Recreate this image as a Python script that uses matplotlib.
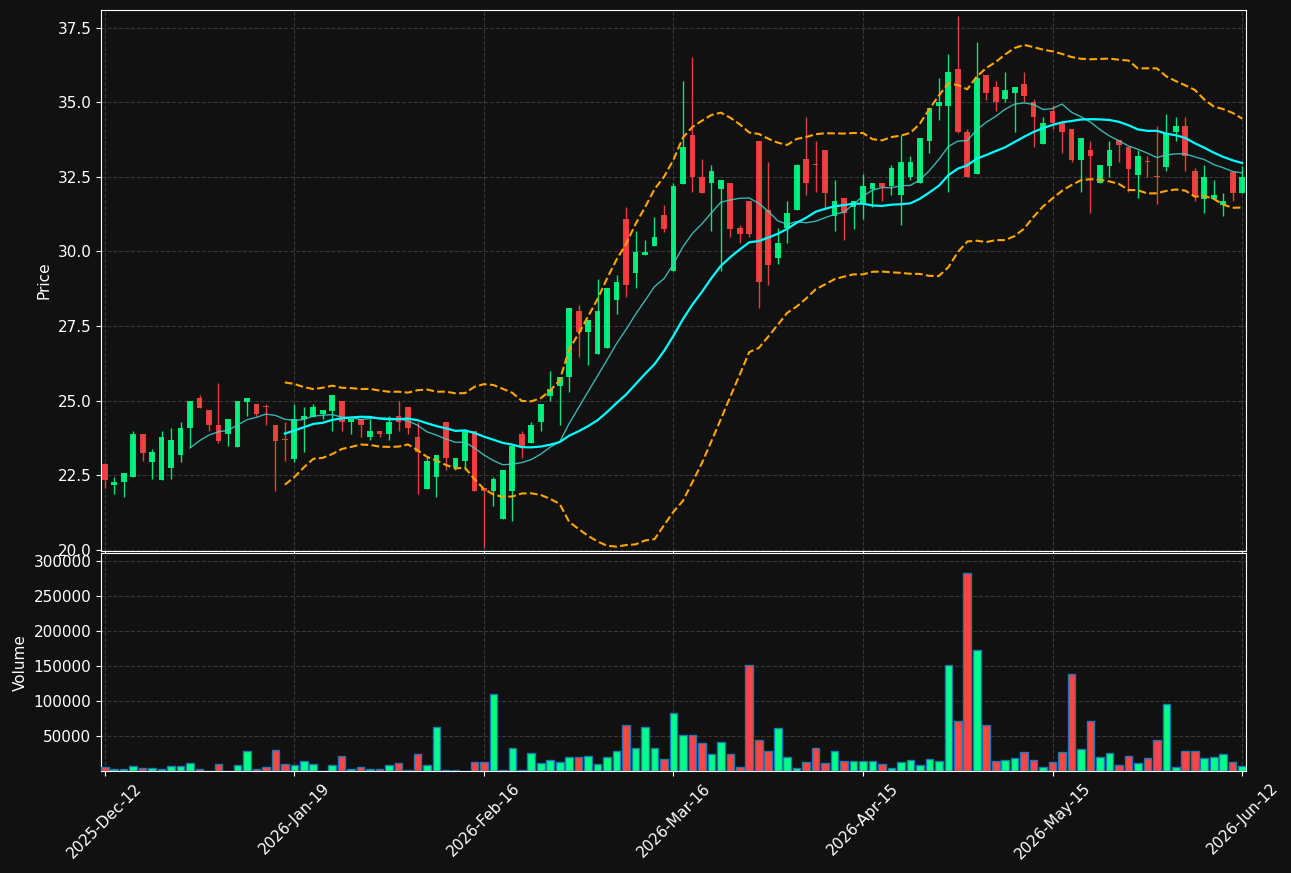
import numpy as np
import pandas as pd
import matplotlib
matplotlib.use("Agg")
import matplotlib.pyplot as plt

# ── OHLCV data (one row per trading bar) ──────────────────────────────────────
opens = [22.88, 22.16, 22.26, 22.46, 23.89, 22.96, 22.36, 22.76, 23.17, 24.07,
         25.10, 24.69, 24.19, 23.87, 23.46, 24.97, 24.89, 24.82, 24.19, 23.72,
         23.05, 24.38, 24.47, 24.56, 24.66, 24.99, 24.28, 24.38, 23.77, 23.99,
         23.87, 24.49, 24.79, 23.79, 22.05, 22.46, 24.29, 22.77, 22.97, 23.99,
         22.09, 21.96, 21.05, 21.96, 23.89, 23.58, 24.28, 25.17, 25.48, 25.78,
         28.01, 27.29, 26.58, 26.78, 28.36, 31.08, 29.27, 29.87, 30.17, 31.21,
         29.35, 32.27, 33.91, 32.50, 32.29, 32.08, 32.30, 30.79, 31.69, 33.71,
         31.40, 29.77, 30.78, 31.38, 33.11, 32.94, 33.41, 31.18, 31.80, 31.48,
         31.62, 32.09, 32.30, 32.18, 31.89, 32.48, 32.28, 33.69, 34.89, 34.89,
         36.12, 34.02, 32.58, 35.92, 35.52, 35.10, 35.30, 35.62, 35.00, 33.60,
         34.72, 34.31, 34.11, 33.08, 33.41, 32.29, 32.87, 33.74, 33.51, 32.57,
         33.04, 32.54, 32.83, 33.99, 34.21, 32.71, 31.77, 31.77, 31.57, 32.67,
         31.97]
highs = [22.90, 22.46, 22.58, 23.97, 23.89, 23.39, 23.99, 24.08, 24.29, 24.99,
         25.20, 24.69, 25.60, 24.39, 24.99, 25.10, 24.89, 24.89, 24.19, 24.28,
         24.88, 24.79, 24.89, 24.68, 25.19, 24.99, 24.38, 24.38, 24.38, 23.99,
         24.48, 24.99, 24.79, 24.28, 23.15, 23.17, 24.29, 23.08, 23.99, 23.99,
         22.09, 22.46, 22.68, 23.49, 23.99, 24.29, 24.89, 26.00, 25.79, 28.11,
         28.21, 27.71, 29.07, 28.78, 29.20, 31.50, 30.70, 30.39, 31.17, 31.55,
         32.29, 35.70, 36.50, 33.11, 32.90, 32.40, 32.30, 30.89, 31.69, 33.71,
         33.01, 30.78, 31.69, 32.94, 34.51, 33.71, 33.41, 32.40, 31.80, 31.69,
         32.60, 32.30, 32.30, 32.91, 33.91, 33.21, 33.81, 34.82, 35.81, 36.62,
         37.90, 34.11, 37.01, 35.92, 35.72, 36.02, 35.52, 36.02, 35.10, 34.51,
         34.92, 34.31, 34.11, 33.81, 33.71, 32.91, 33.71, 33.74, 33.51, 33.40,
         33.21, 34.21, 34.62, 34.51, 34.51, 32.80, 32.91, 32.40, 31.95, 32.67,
         32.87]
lows = [22.08, 21.87, 21.77, 22.46, 22.98, 22.37, 22.36, 22.37, 22.96, 23.44,
        24.77, 23.97, 23.58, 23.48, 23.46, 24.48, 24.48, 24.18, 21.96, 22.97,
        22.96, 23.28, 24.47, 24.38, 23.97, 23.97, 23.88, 23.77, 23.67, 23.77,
        23.68, 23.97, 23.88, 21.87, 22.05, 21.77, 22.67, 22.67, 22.67, 21.96,
        20.06, 21.47, 21.05, 20.97, 23.07, 23.58, 23.99, 24.99, 24.18, 25.29,
        26.48, 26.18, 26.58, 26.78, 27.90, 28.46, 28.77, 29.87, 30.17, 30.66,
        29.35, 32.27, 32.00, 31.97, 30.67, 29.35, 30.48, 30.28, 30.48, 28.10,
        28.88, 29.58, 30.28, 31.38, 31.89, 31.99, 31.38, 30.67, 30.38, 30.77,
        31.10, 31.49, 31.68, 31.90, 30.89, 32.40, 32.28, 33.31, 34.41, 31.99,
        33.98, 32.48, 32.58, 35.08, 34.72, 35.00, 34.02, 35.00, 33.51, 33.60,
        34.10, 33.31, 33.00, 31.98, 31.29, 32.29, 32.51, 33.00, 31.98, 31.80,
        32.51, 31.60, 32.71, 33.71, 32.71, 31.70, 31.29, 31.77, 31.18, 31.70,
        31.97]
closes = [22.35, 22.28, 22.58, 23.89, 23.26, 23.27, 23.79, 23.69, 24.09, 24.99,
          24.77, 24.17, 23.66, 24.39, 24.99, 25.10, 24.57, 24.79, 23.66, 23.69,
          24.38, 24.49, 24.79, 24.68, 25.19, 24.28, 24.38, 24.17, 23.99, 23.87,
          24.29, 24.28, 24.08, 23.27, 22.98, 23.17, 23.07, 23.08, 23.99, 21.96,
          21.96, 22.38, 22.68, 23.49, 23.49, 24.19, 24.89, 25.40, 25.79, 28.11,
          27.30, 27.71, 28.01, 28.78, 28.98, 28.88, 29.99, 29.99, 30.49, 30.76,
          32.20, 33.50, 32.48, 31.97, 32.71, 32.40, 30.76, 30.57, 30.57, 28.98,
          29.55, 30.29, 31.29, 32.91, 32.30, 32.91, 31.97, 31.69, 31.29, 31.69,
          32.20, 32.30, 32.17, 32.81, 33.01, 33.01, 33.81, 34.82, 35.02, 36.02,
          34.00, 32.48, 35.82, 35.30, 35.00, 35.42, 35.52, 35.20, 34.51, 34.31,
          34.32, 33.99, 33.07, 33.81, 33.19, 32.91, 33.41, 33.58, 32.77, 33.21,
          33.01, 32.51, 33.93, 34.21, 33.19, 31.89, 32.51, 31.90, 31.70, 31.97,
          32.51]
volumes = [5300, 3300, 3300, 6700, 4800, 4800, 3300, 6700, 6700, 11000,
           2400, 500, 9500, 300, 8100, 28100, 2400, 5300, 29500, 9500,
           8100, 13800, 9500, 300, 8100, 21000, 3300, 6200, 3300, 3300,
           8100, 11000, 1500, 23800, 8100, 62400, 1000, 1000, 300, 12400,
           12400, 109500, 1000, 32400, 1000, 25200, 11000, 15200, 12400, 19500,
           19500, 21000, 9500, 19500, 28100, 65200, 32400, 62400, 32400, 16700,
           82400, 51000, 51000, 39500, 23800, 41000, 23800, 5300, 151000, 43800,
           28100, 61000, 19500, 3800, 12400, 32400, 11000, 28100, 13800, 13800,
           13800, 13800, 9500, 3800, 12400, 15200, 8100, 16700, 13800, 151000,
           71000, 282400, 172400, 65200, 13800, 15200, 18100, 26700, 15200, 5300,
           12400, 26700, 138100, 31000, 71000, 19500, 25200, 8100, 21000, 11000,
           18100, 43800, 95200, 5300, 28100, 28100, 18100, 19500, 23800, 12400,
           6700]
tick_labels = ["2025-Dec-12", "2026-Jan-19", "2026-Feb-16", "2026-Mar-16",
               "2026-Apr-15", "2026-May-15", "2026-Jun-12"]

df = pd.DataFrame({"open": opens, "high": highs, "low": lows,
                   "close": closes, "volume": volumes})
df["ma10"] = df["close"].rolling(10).mean()
df["ma20"] = df["close"].rolling(20).mean()
std20 = df["close"].rolling(20).std()
df["bb_up"] = df["ma20"] + 2 * std20
df["bb_lo"] = df["ma20"] - 2 * std20

BG = "#111111"
UP, DOWN = "#00ff88", "#ff4444"

fig = plt.figure(figsize=(12.91, 8.73), dpi=100, facecolor=BG)
gs = fig.add_gridspec(2, 1, height_ratios=[541, 218], hspace=0.006,
                      left=0.0782, right=0.9651, top=0.9885, bottom=0.1168)
ax = fig.add_subplot(gs[0])
axv = fig.add_subplot(gs[1], sharex=ax)

x = np.arange(len(df))
up = (df["close"] >= df["open"]).values
colors = np.where(up, UP, DOWN)

# ── candles ───────────────────────────────────────────────────────────────────
ax.vlines(x, df["low"], df["high"], colors=colors, lw=1, alpha=0.9, zorder=2)
body = (df["close"] - df["open"]).abs()
ax.bar(x, body, bottom=np.minimum(df["open"], df["close"]), width=0.6,
       color=colors, alpha=0.9, zorder=3)

# ── indicators ────────────────────────────────────────────────────────────────
ax.plot(x, df["ma10"], color="#40d0c8", lw=1, alpha=0.85, zorder=4)
ax.plot(x, df["ma20"], color="#00ffff", lw=1.6, zorder=4)
ax.plot(x, df["bb_up"], color="#ffa500", lw=1.5, ls="--", zorder=4)
ax.plot(x, df["bb_lo"], color="#ffa500", lw=1.5, ls="--", zorder=4)

# ── volume ────────────────────────────────────────────────────────────────────
axv.bar(x, df["volume"], width=0.8, color=colors, edgecolor="#1f77b4",
        lw=1, zorder=3)

for a in (ax, axv):
    a.set_facecolor(BG)
    a.grid(True, color="gray", alpha=0.35, ls="--", lw=0.8)
    a.tick_params(colors="white", labelsize=11)
    for s in a.spines.values():
        s.set_color("white")

ax.set_ylim(19.97, 38.09)
ax.set_ylabel("Price", color="white", fontsize=11)
ax.tick_params(axis="x", labelbottom=False)

axv.set_ylim(0, 311000)
axv.set_yticks([50000, 100000, 150000, 200000, 250000, 300000])
axv.set_ylabel("Volume", color="white", fontsize=11)
axv.set_xlim(-0.4, len(df) - 0.6)
axv.set_xticks(x[::20])
axv.set_xticklabels(tick_labels, rotation=45)

plt.savefig("out.png", dpi=100, facecolor=BG)
